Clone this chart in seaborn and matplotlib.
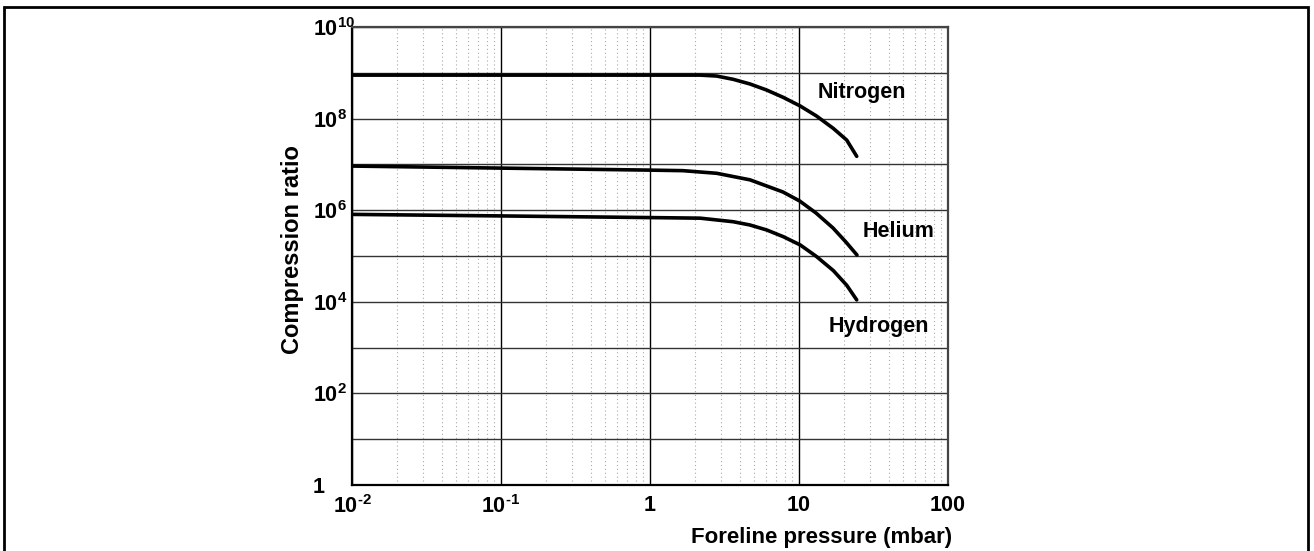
import numpy as np
import pandas as pd
import matplotlib
matplotlib.use('Agg')
import matplotlib.pyplot as plt
import matplotlib.patches as mpatches
from matplotlib.ticker import FixedLocator, NullFormatter
import seaborn as sns

# Values
nitrogen_p = [0.01, 0.1, 1, 2.17, 2.80, 3.62, 4.69, 6.07, 7.85, 10.2, 13.1, 17.0, 20.9, 24.4]
nitrogen_k = [8.9e8, 8.9e8, 8.9e8, 8.9e8, 8.5e8, 7.2e8, 5.7e8, 4.2e8, 2.9e8, 1.88e8, 1.14e8, 6.1e7, 3.4e7, 1.5e7]

helium_p = [0.01, 0.1, 1, 1.66, 2.80, 4.69, 7.8, 10.1, 13.0, 16.9, 20.7, 24.5]
helium_k = [9.2e6, 8.3e6, 7.5e6, 7.3e6, 6.4e6, 4.6e6, 2.5e6, 1.59e6, 8.7e5, 4.1e5, 2.0e5, 1.05e5]

hydrogen_p = [0.01, 0.1, 1, 2.17, 3.62, 4.69, 6.07, 7.85, 10.2, 13.1, 17.0, 20.9, 24.4]
hydrogen_k = [8.1e5, 7.5e5, 6.9e5, 6.7e5, 5.6e5, 4.75e5, 3.7e5, 2.64e5, 1.74e5, 9.75e4, 4.8e4, 2.3e4, 1.1e4]

gas_labels = ['Nitrogen', 'Helium', 'Hydrogen']
label_pos = [(13.4, 3.8e8), (26.9, 3.4e5), (15.7, 2.86e3)]

x_ticks = [0.01, 0.1, 1, 10, 100]
x_ticklabels = [r'$\mathbf{10^{\text{-}2}}$', r'$\mathbf{10^{\text{-}1}}$', '1', '10', '100']
y_ticks = [1, 1e2, 1e4, 1e6, 1e8, 1e10]
y_ticklabels = ['1', r'$\mathbf{10^{2}}$', r'$\mathbf{10^{4}}$', r'$\mathbf{10^{6}}$',
                r'$\mathbf{10^{8}}$', r'$\mathbf{10^{10}}$']

df = pd.concat([
    pd.DataFrame({'p': nitrogen_p, 'k': nitrogen_k, 'gas': 'Nitrogen'}),
    pd.DataFrame({'p': helium_p, 'k': helium_k, 'gas': 'Helium'}),
    pd.DataFrame({'p': hydrogen_p, 'k': hydrogen_k, 'gas': 'Hydrogen'}),
])

sns.set_style('white')
plt.rcParams['font.family'] = ['Liberation Sans', 'DejaVu Sans']
plt.rcParams['font.weight'] = 'bold'
plt.rcParams['text.color'] = 'black'
plt.rcParams['xtick.color'] = 'black'
plt.rcParams['ytick.color'] = 'black'
plt.rcParams['mathtext.fontset'] = 'custom'
plt.rcParams['mathtext.bf'] = 'Liberation Sans:bold'
plt.rcParams['mathtext.rm'] = 'Liberation Sans:bold'

fig = plt.figure(figsize=(13.14, 5.51), dpi=100)
ax = fig.add_axes([352 / 1314, 1 - 485 / 551, 596 / 1314, 458 / 551])

sns.lineplot(data=df, x='p', y='k', hue='gas', palette=['black'] * 3,
             linewidth=2.6, legend=False, ax=ax, sort=False, estimator=None)

ax.set_xscale('log')
ax.set_yscale('log')
ax.set_xlim(0.01, 100)
ax.set_ylim(1, 1e10)

ax.set_xticks(x_ticks, x_ticklabels)
ax.set_yticks(y_ticks, y_ticklabels)
x_minor = [m * 10.0 ** e for e in range(-2, 2) for m in range(2, 10)]
ax.xaxis.set_minor_locator(FixedLocator(x_minor))
ax.xaxis.set_minor_formatter(NullFormatter())
ax.yaxis.set_minor_locator(FixedLocator([10.0 ** e for e in range(1, 10, 2)]))
ax.yaxis.set_minor_formatter(NullFormatter())

ax.tick_params(axis='x', which='major', length=0, labelsize=15.5, pad=7)
ax.tick_params(axis='x', which='minor', direction='in', length=8, width=1, color='black')
# y tick labels are left aligned in a column at x ~ 313 px
ax.tick_params(axis='y', which='both', length=0, labelsize=15.5, pad=28)
for lbl in ax.get_yticklabels():
    lbl.set_horizontalalignment('left')

ax.grid(True, axis='y', which='both', color='#333333', linewidth=1, linestyle='-')
ax.grid(True, axis='x', which='major', color='black', linewidth=1, linestyle='-')
ax.grid(True, axis='x', which='minor', color='#aaaaaa', linewidth=0.8, linestyle=(0, (1, 2.5)))
ax.set_axisbelow(True)

for side in ['left', 'bottom']:
    ax.spines[side].set_color('black')
    ax.spines[side].set_linewidth(1.6)
for side in ['top', 'right']:
    ax.spines[side].set_color('#444444')
    ax.spines[side].set_linewidth(1.6)

for name, (tx, ty) in zip(gas_labels, label_pos):
    ax.text(tx, ty, name, fontsize=15.5, fontweight='bold', ha='left', va='center')

ax.set_xlabel('')
ax.set_ylabel('')
fig.text(292 / 1314, 1 - 250 / 551, 'Compression ratio', fontsize=17, fontweight='bold',
         rotation=90, ha='center', va='center')
fig.text(822 / 1314, 1 - 538 / 551, 'Foreline pressure (mbar)', fontsize=16,
         fontweight='bold', ha='center', va='center')

# frame around the figure (open at the bottom)
fig.patches.append(mpatches.Rectangle((4 / 1314, -0.1), 1304 / 1314, 1.1 - 7 / 551,
                                      transform=fig.transFigure, fill=False,
                                      edgecolor='black', linewidth=2))

fig.savefig('out.png', dpi=100)
